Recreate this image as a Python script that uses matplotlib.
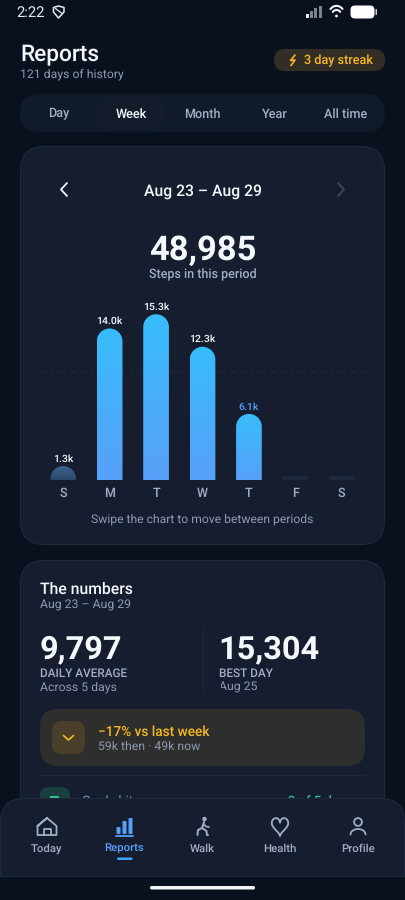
#!/usr/bin/env python3
"""Weekly steps report screen: phone UI drawn around a rounded bar chart."""
import matplotlib
matplotlib.use("Agg")
import matplotlib.pyplot as plt
import numpy as np
from matplotlib.colors import LinearSegmentedColormap
from matplotlib.patches import Circle, FancyBboxPatch, PathPatch, Polygon
from matplotlib.path import Path

plt.rcParams["font.family"] = ["Roboto", "DejaVu Sans"]
plt.rcParams["text.hinting"] = "no_hinting"

days = ["S", "M", "T", "W", "T", "F", "S"]
steps = [1290, 13990, 15304, 12300, 6101, 0, 0]
step_labels = ["1.3k", "14.0k", "15.3k", "12.3k", "6.1k", "", ""]
goal = 10000
today_index = 4
first_day_index = 0
tabs = ["Day", "Week", "Month", "Year", "All time"]
tab_x = [59, 131, 202.5, 274.5, 345.5]
nav_labels = ["Today", "Reports", "Walk", "Health", "Profile"]
nav_x = [46.5, 124.5, 202, 280, 358]

BG = "#0a111e"
CARD = "#151d2e"
EDGE = "#1e2a3c"
WHITE = "#f4f7fb"
MUTED = "#8e9ab2"
LABEL = "#a3aec4"
AMBER = "#f5b81f"
BLUE = "#56a0f8"
PX = 0.72  # css px to points at dpi 100

fig = plt.figure(figsize=(4.05, 9.0), dpi=100, facecolor=BG)
ui = fig.add_axes([0, 0, 1, 1], zorder=0)
ui.set_xlim(0, 405)
ui.set_ylim(900, 0)
ui.axis("off")


def box(x0, y0, x1, y1, r, color, edge="none", lw=0, z=1):
    p = FancyBboxPatch((x0, y0), x1 - x0, y1 - y0, boxstyle=f"round,pad=0,rounding_size={r}",
                       fc=color, ec=edge, lw=lw, zorder=z)
    ui.add_patch(p)
    return p


def txt(x, y, s, size, color=WHITE, weight="normal", ha="left", z=5):
    # y is the middle of the capitals, Roboto caps are 0.711 em
    return ui.text(x, y + 0.355 * size, s, fontsize=size * PX, color=color, fontweight=weight, ha=ha,
                   va="baseline", zorder=z)


def stroke(xs, ys, color, lw=1.2, z=5):
    ui.plot(xs, ys, color=color, lw=lw, solid_capstyle="round", solid_joinstyle="round", zorder=z)


# status bar
txt(16, 12, "2:22", 14.8, "#e8ebf0")
ui.add_patch(Polygon([(53.5, 7.5), (58.5, 6), (64, 7.5), (64, 12), (58.5, 18), (53.5, 12)], closed=True,
                     fc="none", ec="#e8ebf0", lw=1.1, joinstyle="round", zorder=5))
stroke([55.5, 62], [8.5, 13.5], "#e8ebf0", 0.9)
for i, (h, col) in enumerate(zip([4, 7, 10, 12], ["#e8ebf0", "#7d838c", "#7d838c", "#7d838c"])):
    ui.add_patch(plt.Rectangle((305.5 + i * 4.4, 17.5 - h), 3, h, fc=col, zorder=5))
for r in [8.5, 5.2]:
    t = np.radians(np.linspace(225, 315, 20))
    stroke(336.5 + r * np.cos(t), 16.5 + r * 1.25 * np.sin(t), "#f4f6f8", 1.5)
ui.add_patch(Circle((336.5, 16), 1.4, fc="#f4f6f8", zorder=5))
box(350.5, 5.5, 374.5, 18.5, 4.5, "#ffffff", z=5)
box(375.5, 9, 377, 15, 0.7, "#d0d3d8", z=5)

# header
txt(20.5, 53, "Reports", 22.6, WHITE, "medium")
txt(20.5, 73, "121 days of history", 12.3, MUTED)
box(274, 49, 385, 71, 11, "#332e25")
stroke([295, 290.5, 295, 291], [55, 60.5, 60, 65.5], AMBER, 1.2)
txt(303.5, 60, "3 day streak", 12.6, AMBER, "medium")

# period tabs
box(20, 94, 385, 132, 19, "#111a29")
box(97, 96, 166, 130, 17, "#141c2c")
for name, x in zip(tabs, tab_x):
    on = name == "Week"
    txt(x, 113, name, 12.6, WHITE if on else LABEL, "medium", ha="center")

# period card
box(20.5, 146.5, 384.5, 544.5, 24, CARD, EDGE, 0.8)
stroke([67, 61, 67], [183, 189.5, 196], WHITE, 1.3)
stroke([338, 344, 338], [183, 189.5, 196], "#3f4859", 1.3)
txt(202.5, 190, "Aug 23 – Aug 29", 15.7, WHITE, "medium", ha="center")
txt(202.5, 247.5, "48,985", 34.5, WHITE, "bold", ha="center")
txt(202.5, 274, "Steps in this period", 12.5, LABEL, "medium", ha="center")
txt(202.5, 518.5, "Swipe the chart to move between periods", 12.1, MUTED, ha="center")

# numbers card, runs on under the nav bar
box(20.5, 560.5, 384.5, 900, 24, CARD, EDGE, 0.8)
txt(40, 588.5, "The numbers", 15.7, WHITE, "medium")
txt(40, 604.5, "Aug 23 – Aug 29", 12.2, MUTED)
txt(39.5, 646.5, "9,797", 32.5, WHITE, "bold")
txt(40, 673, "DAILY AVERAGE", 11.8, LABEL, "medium")
txt(40, 686.5, "Across 5 days", 12.3, MUTED)
ui.plot([202.5, 202.5], [628, 693], color=EDGE, lw=0.8, zorder=4)
txt(218.5, 646.5, "15,304", 32.5, WHITE, "bold")
txt(219, 673, "BEST DAY", 11.8, LABEL, "medium")
txt(219, 686.5, "Aug 25", 12.3, MUTED)
box(218, 680, 221, 693, 0.1, CARD, z=6)  # first letter is clipped on the device

box(40, 709, 365, 766, 18, "#2e2e2d")
box(52, 721, 85, 754, 10, "#4a3f2b")
stroke([63.5, 68.5, 73.5], [735.5, 740, 735.5], AMBER, 1.2)
txt(97.5, 731.5, "−17% vs last week", 13.6, AMBER, "medium")
txt(97.5, 745.5, "59k then · 49k now", 12.3, MUTED)
ui.plot([40, 365], [774.5, 774.5], color=EDGE, lw=0.8, zorder=4)
box(40, 787, 70, 815, 9, "#19403f")
box(50, 796, 59, 800, 1, "#2fc48d", z=3)
txt(82, 800.5, "Goals hit", 13, MUTED, z=3)
txt(320, 800.5, "3 of 5 days", 13, "#2fc48d", "medium", ha="center", z=3)

# bottom nav
nav = FancyBboxPatch((0.5, 798.5), 404, 110, boxstyle="round,pad=0,rounding_size=24", fc=CARD, ec=EDGE, lw=0.8, zorder=8)
ui.add_patch(nav)
ui.add_patch(plt.Rectangle((0, 876), 405, 24, fc=BG, zorder=9))
ui.plot([0, 405], [875.5, 875.5], color=EDGE, lw=0.8, zorder=9)
box(150, 886, 255, 889.5, 1.7, "#f2f3f5", z=10)
for name, x in zip(nav_labels, nav_x):
    txt(x, 847.5, name, 11.4, BLUE if name == "Reports" else LABEL, "medium", ha="center", z=10)
box(117, 857.5, 132.5, 860, 1.2, "#3fa5f5", z=10)

c = LABEL
stroke([37.5, 47, 56.5, 56.5, 37.5, 37.5, 47], [826, 818, 826, 835, 835, 826, 818], c, 1.3, 10)
stroke([43.5, 43.5, 50.5, 50.5], [835, 828.5, 828.5, 835], c, 1.3, 10)
for i, h in enumerate([7, 13, 16]):
    box(116.5 + i * 6, 834 - h, 120.5 + i * 6, 834, 1, BLUE, z=10)
stroke([116, 132.5], [835.5, 835.5], BLUE, 1.3, 10)
ui.add_patch(Circle((204.5, 819), 2.2, fc=c, zorder=10))
stroke([204, 202, 198, 197.5], [822, 828, 830, 835], c, 1.4, 10)
stroke([202, 206.5, 207, 208], [828, 831, 835, 835], c, 1.4, 10)
stroke([203.5, 206, 209], [824, 826.5, 827], c, 1.2, 10)
t = np.linspace(0, 2 * np.pi, 80)
stroke(280 + 8.2 * np.sin(t) ** 3, 826 - 0.62 * (13 * np.cos(t) - 5 * np.cos(2 * t) - 2 * np.cos(3 * t) - np.cos(4 * t)) - 0.5,
       c, 1.3, 10)
ui.add_patch(Circle((358, 822), 3.9, fc="none", ec=c, lw=1.3, zorder=10))
t = np.radians(np.linspace(180, 360, 30))
stroke(358 + 7.5 * np.cos(t), 834.5 + 5.5 * np.sin(t), c, 1.3, 10)

# bar chart, 325x180 px window over the card
chart = fig.add_axes([40 / 405, 1 - 480 / 900, 325 / 405, 180 / 900], zorder=2)
chart.patch.set_alpha(0)
for side in chart.spines.values():
    side.set_visible(False)
y_max = 180 / 0.01083
chart.set_xlim(-0.5, 6.5)
chart.set_ylim(0, y_max)
bar_w = 25.7 / (325 / 7)
ry = 12.85 * y_max / 180

chart.axhline(goal, color="#202c3e", lw=0.8, dashes=(4, 5), zorder=1)


def top_round(x, h, radius):
    l, r = x - bar_w / 2, x + bar_w / 2
    k = 0.5523
    rx = bar_w / 2
    verts = [(l, 0), (l, h - radius), (l, h - radius + k * radius), (x - k * rx, h), (x, h),
             (x + k * rx, h), (r, h - radius + k * radius), (r, h - radius), (r, 0), (l, 0)]
    codes = [Path.MOVETO, Path.LINETO, Path.CURVE4, Path.CURVE4, Path.CURVE4,
             Path.CURVE4, Path.CURVE4, Path.CURVE4, Path.LINETO, Path.CLOSEPOLY]
    return Path(verts, codes)


full = LinearSegmentedColormap.from_list("bar", ["#37bdfb", "#58a0f9"])
dim = LinearSegmentedColormap.from_list("dim", ["#3a648f", "#2b4767"])
ramp = np.linspace(0, 1, 128).reshape(-1, 1)
for i, (v, lab) in enumerate(zip(steps, step_labels)):
    if v == 0:
        # no data yet: short stub
        stub = FancyBboxPatch((i - bar_w / 2, 0), bar_w, 370, boxstyle="round,pad=0,rounding_size=0.02",
                              mutation_aspect=370 / 0.04, fc="#1e293b", ec="none", zorder=2)
        chart.add_patch(stub)
        continue
    clip = PathPatch(top_round(i, v, min(ry, v)), fc="none", ec="none", transform=chart.transData)
    chart.add_patch(clip)
    im = chart.imshow(ramp, cmap=dim if i == first_day_index else full, extent=[i - bar_w / 2, i + bar_w / 2, 0, v],
                      origin="upper", aspect="auto", zorder=3)
    im.set_clip_path(clip)
    chart.annotate(lab, (i, v), xytext=(0, 4.5 * PX), textcoords="offset points", ha="center", va="baseline",
                   fontsize=10.5 * PX, fontweight="medium", color=BLUE if i == today_index else WHITE)
chart.set_xlim(-0.5, 6.5)
chart.set_ylim(0, y_max)
chart.set_yticks([])
chart.set_xticks(range(len(days)), days, fontsize=12.5 * PX, fontweight="medium", color=LABEL)
chart.tick_params(axis="x", length=0, pad=5)

fig.savefig("out.png", dpi=100, facecolor=BG)
